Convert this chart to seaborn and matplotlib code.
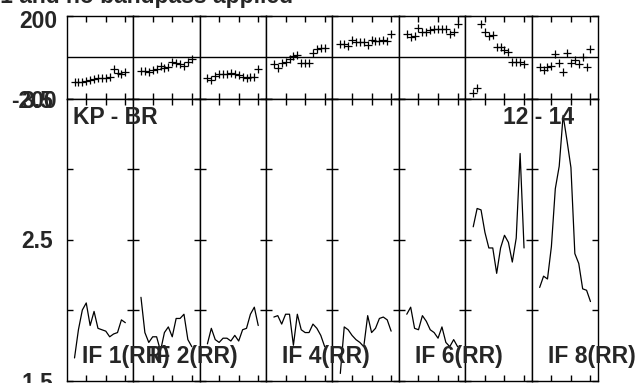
import pandas as pd
import seaborn as sns
import matplotlib.pyplot as plt
from matplotlib.transforms import ScaledTranslation

# channels plotted in every IF panel
channels = list(range(2, 16))

# phase (degrees) per IF
phase_if1 = [-119, -119, -119, -118, -111, -104, -101, -100, -100, -95, -59, -76, -82, -71]
phase_if2 = [-67, -67, -72, -63, -56, -43, -55, -47, -26, -28, -34, -43, -26, -10]
phase_if3 = [-103, -111, -92, -84, -84, -82, -79, -80, -88, -98, -100, -95, -96, -60]
phase_if4 = [-35, -55, -30, -23, -11, 5, 10, -31, -28, -28, 18, 37, 42, 42]
phase_if5 = [61, 61, 55, 82, 71, 71, 71, 58, 82, 79, 79, 82, 79, 111]
phase_if6 = [111, 95, 100, 138, 122, 122, 130, 135, 135, 135, 133, 111, 122, 159]
phase_if7 = [-172, -147, 159, 122, 101, 106, 50, 50, 34, 26, -23, -23, -23, -34]
phase_if8 = [-50, -63, -50, -43, 13, -30, -71, 18, -27, -14, -34, 2, -47, 37]

# amplitude per IF
amp_if1 = [1.66, 1.86, 2.00, 2.05, 1.89, 1.99, 1.87, 1.86, 1.85, 1.81, 1.83, 1.84, 1.93, 1.91]
amp_if2 = [2.09, 1.84, 1.77, 1.81, 1.81, 1.71, 1.84, 1.88, 1.81, 1.94, 1.94, 1.97, 1.79, 1.74]
amp_if3 = [1.76, 1.87, 1.79, 1.77, 1.80, 1.80, 1.78, 1.82, 1.78, 1.86, 1.87, 1.97, 2.02, 1.89]
amp_if4 = [1.95, 1.96, 1.90, 1.97, 1.97, 1.75, 1.97, 1.86, 1.84, 1.84, 1.90, 1.87, 1.82, 1.74]
amp_if5 = [1.55, 1.88, 1.86, 1.82, 1.79, 1.77, 1.74, 1.96, 1.84, 1.87, 1.94, 1.95, 1.93, 1.85]
amp_if6 = [1.97, 2.02, 1.87, 1.86, 1.96, 1.92, 1.86, 1.84, 1.80, 1.88, 1.77, 1.74, 1.79, 1.74]
amp_if7 = [2.59, 2.72, 2.71, 2.55, 2.44, 2.44, 2.26, 2.44, 2.53, 2.48, 2.34, 2.51, 3.11, 2.44]
amp_if8 = [2.16, 2.24, 2.22, 2.45, 2.86, 3.02, 3.38, 3.20, 3.01, 2.40, 2.33, 2.15, 2.14, 2.06]

phases = [phase_if1, phase_if2, phase_if3, phase_if4, phase_if5, phase_if6, phase_if7, phase_if8]
amps = [amp_if1, amp_if2, amp_if3, amp_if4, amp_if5, amp_if6, amp_if7, amp_if8]

# IF labels that show up in the plot
if_labels = {1: "IF 1(RR)", 2: "IF 2(RR)", 4: "IF 4(RR)", 6: "IF 6(RR)", 8: "IF 8(RR)"}

rows = []
for i in range(8):
    for ch, p, a in zip(channels, phases[i], amps[i]):
        rows.append({"IF": i + 1, "channel": ch, "phase": p, "amp": a})
df = pd.DataFrame(rows)

sns.set_theme(style="ticks")
plt.rcParams['font.family'] = ['Liberation Sans', 'DejaVu Sans']
plt.rcParams['font.weight'] = 'bold'
fs = 16.5

W, H = 640, 383
fig = plt.figure(figsize=(6.4, 3.83), dpi=100)

left = 66.7 / W
col_w = (598.3 - 66.7) / W / 8
ph_bottom = 1 - 98.5 / H
ph_h = (98.5 - 15.5) / H
am_bottom = 1 - 380.5 / H
am_h = (380.5 - 98.5) / H


def style_axes(ax):
    ax.set_xlim(0, 17)
    ax.set_xticks([5, 10, 15])
    ax.set_xlabel('')
    ax.set_ylabel('')
    ax.tick_params(direction='in', top=True, bottom=True, left=True, right=True,
                   labelbottom=False, color='black', width=1, length=4)
    for s in ax.spines.values():
        s.set_color('black')
        s.set_linewidth(1)
    ax.set_facecolor('white')


for i in range(8):
    d = df[df.IF == i + 1]
    x0 = left + i * col_w
    axp = fig.add_axes([x0, ph_bottom, col_w, ph_h])
    axa = fig.add_axes([x0, am_bottom, col_w, am_h])

    # phase panel
    axp.axhline(0, color='black', lw=1)
    sns.scatterplot(data=d, x="channel", y="phase", marker="+", color="black",
                    s=40, linewidth=0.9, ax=axp, legend=False)
    style_axes(axp)
    axp.set_ylim(-200, 200)
    axp.set_yticks([-200, 200])

    # amplitude panel
    sns.lineplot(data=d, x="channel", y="amp", color="black", lw=0.9, ax=axa)
    style_axes(axa)
    axa.set_ylim(1.5, 3.5)
    axa.set_yticks([1.5, 2.0, 2.5, 3.0, 3.5])
    axa.tick_params(axis='y', length=4.5)

    if i == 0:
        axp.set_yticklabels(['-200', '200'], fontsize=fs, fontweight='bold')
        axp.tick_params(axis='y', pad=7)
        # nudge the top label down a little, like the original
        top_lab = axp.get_yticklabels()[1]
        top_lab.set_transform(top_lab.get_transform()
                              + ScaledTranslation(0, -3 / 100, fig.dpi_scale_trans))
        axa.set_yticklabels(['1.5', '', '2.5', '', '3.5'], fontsize=fs, fontweight='bold')
        axa.tick_params(axis='y', pad=10)
    else:
        axp.tick_params(labelleft=False)
        axa.tick_params(labelleft=False)

# title, cut off at the top of the image
fig.text(293 / W, 1 - 2.5 / H, "Calibration table 1 and no bandpass applied",
         ha='right', va='baseline', fontsize=fs, fontweight='bold')

# baseline labels
fig.text(73 / W, 1 - 124 / H, "KP - BR", ha='left', va='baseline', fontsize=fs, fontweight='bold')
fig.text(574 / W, 1 - 124 / H, "12 - 14", ha='right', va='baseline', fontsize=fs, fontweight='bold')

# IF labels
if_x = {1: 82, 2: 150, 4: 282, 6: 415, 8: 548}
for k, lab in if_labels.items():
    fig.text(if_x[k] / W, 1 - 363.5 / H, lab, ha='left', va='baseline',
             fontsize=fs, fontweight='bold')

plt.savefig('out.png', dpi=100, facecolor='white')
